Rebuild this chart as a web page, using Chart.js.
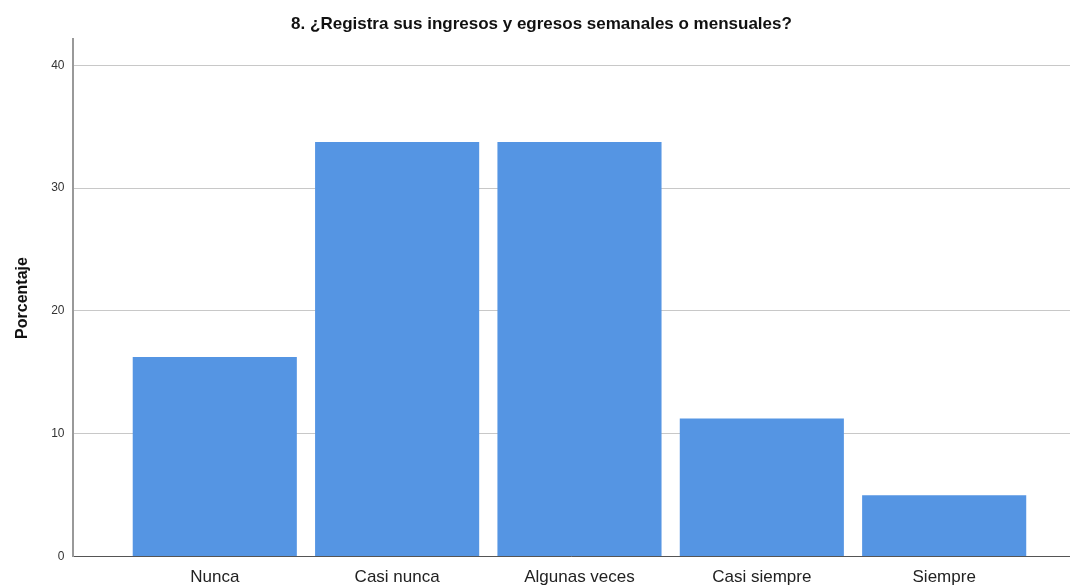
<!DOCTYPE html>
<html>
<head>
<meta charset="utf-8">
<script src="https://cdn.jsdelivr.net/npm/chart.js@4.4.1/dist/chart.umd.min.js"></script>
<style>
html,body{margin:0;padding:0;background:#fff;overflow:hidden;}
#wrap{width:1070px;height:587px;overflow:hidden;}
</style>
</head>
<body>
<div id="wrap"><canvas id="c" width="1070" height="600"></canvas></div>
<script>
const categories = ["Nunca", "Casi nunca", "Algunas veces", "Casi siempre", "Siempre"];
const percentages = [16.25, 33.75, 33.75, 11.25, 5];
const yTicks = [0, 10, 20, 30, 40];
const titleText = "8. ¿Registra sus ingresos y egresos semanales o mensuales?";
const yTitle = "Porcentaje";

const FONT = "'Liberation Sans', Arial, sans-serif";

new Chart(document.getElementById('c'), {
  type: 'bar',
  data: {
    datasets: [{
      data: categories.map((c, i) => ({x: i, y: percentages[i]})),
      backgroundColor: '#5595e3',
      borderWidth: 0,
      barPercentage: 0.9,
      categoryPercentage: 1.0
    }]
  },
  options: {
    responsive: false,
    animation: false,
    layout: {padding: {left: 13, right: 0, top: 12, bottom: 1}},
    plugins: {
      legend: {display: false},
      tooltip: {enabled: false},
      title: {
        display: true,
        text: titleText,
        color: '#111',
        font: {family: FONT, size: 17, weight: 'bold'},
        padding: {top: 2, bottom: 5}
      }
    },
    scales: {
      x: {
        type: 'linear',
        offset: false,
        min: -0.78,
        max: 4.69,
        afterBuildTicks: (axis) => { axis.ticks = categories.map((_, i) => ({value: i})); },
        ticks: {
          callback: (v) => categories[v] ?? '',
          color: '#222',
          font: {family: FONT, size: 17},
          padding: 11,
          maxRotation: 0,
          autoSkip: false
        },
        grid: {display: false, drawTicks: false, offset: false},
        border: {display: true, color: '#555', width: 1}
      },
      y: {
        min: 0,
        max: 42.1,
        afterBuildTicks: (axis) => { axis.ticks = yTicks.map(v => ({value: v})); },
        ticks: {
          color: '#333',
          font: {family: FONT, size: 12},
          padding: 8
        },
        grid: {color: '#c8c8c8', lineWidth: 1, drawTicks: false},
        border: {display: true, color: '#999', width: 2},
        title: {
          display: true,
          text: yTitle,
          color: '#111',
          font: {family: FONT, size: 16, weight: 'bold'},
          padding: {top: 0, bottom: 11}
        }
      }
    }
  }
});
</script>
</body>
</html>
